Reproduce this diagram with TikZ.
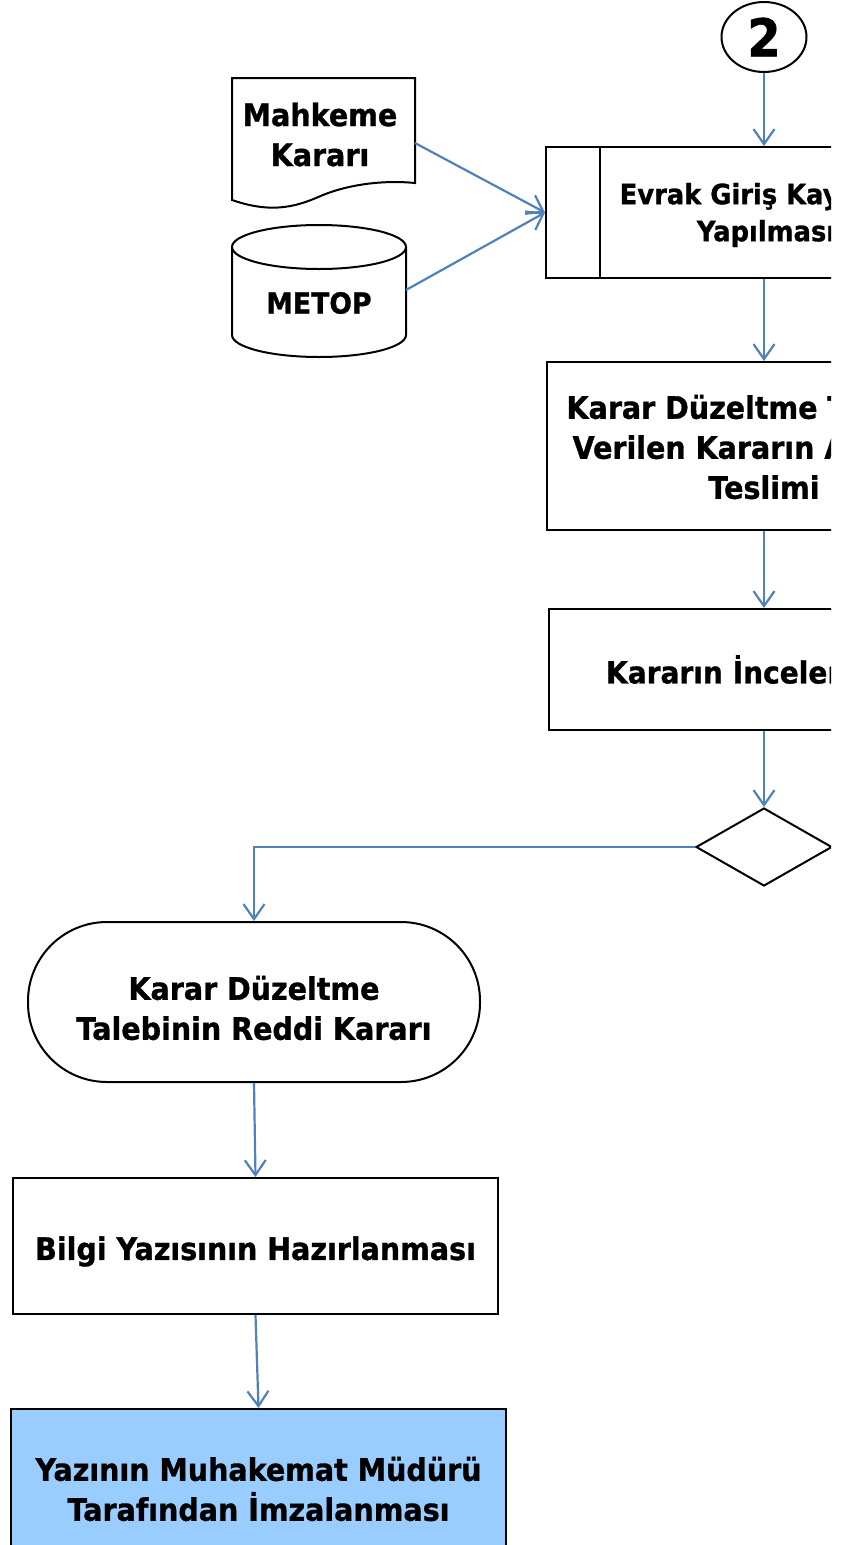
\documentclass[tikz,border=0pt]{standalone}
\usepackage{fontspec}
\setmainfont{DejaVu Sans}[FakeStretch=0.92, FakeBold=1]
\usetikzlibrary{arrows.meta,shapes.geometric}
\definecolor{lineblue}{HTML}{4F81BD}
\definecolor{fillblue}{HTML}{99CCFF}
\tikzset{
  arr/.style={draw=lineblue, line width=2.2pt, -{Straight Barb[length=15pt,width=21pt,line width=2.2pt]}},
  shp/.style={draw=black, line width=2pt, fill=white},
  boxnode/.style={shp, rectangle, inner sep=0pt},
  txt/.style={inner sep=0pt, align=center, font=\bfseries\fontsize{31}{40}\selectfont},
}
\begin{document}
\begin{tikzpicture}[x=1pt,y=-1pt]
\useasboundingbox (0,0) rectangle (849,1545);
\begin{scope}
\clip (0,0) rectangle (831,1545);
% connector circle 2
\node[shp, ellipse, minimum width=85pt, minimum height=70pt, inner sep=0pt, font=\bfseries\fontsize{52}{52}\selectfont] (c2) at (764,37) {2};
% Evrak box (predefined process)
\node[boxnode, minimum width=436pt, minimum height=131pt] (ev) at (764,212.5) {};
\draw[line width=2pt] ([xshift=55pt]ev.north west) -- ([xshift=55pt]ev.south west);
\node[txt, font=\bfseries\fontsize{28}{37}\selectfont] (evT) at (766,215) {Evrak Giriş Kaydının\\Yapılması};
% document shape
\draw[shp] (232,78) -- (415,78) -- (415,183) .. controls (385,180) and (350,184) .. (323,195) .. controls (300,205) and (275,215) .. (232,200) -- cycle;
\node[txt] (mk) at (320,134.5) {Mahkeme\\Kararı};
\coordinate (mkR) at (415,143);
% cylinder
\draw[shp] (232,247) -- (232,335) arc (180:360:87pt and 22pt) -- (406,247);
\draw[shp] (319,247) ellipse [x radius=87pt, y radius=22pt];
\node[txt, font=\bfseries\fontsize{29}{30}\selectfont] (mt) at (319,303) {METOP};
\coordinate (mtR) at (406,290);
% second box
\node[boxnode, minimum width=434pt, minimum height=168pt] (kd) at (764,446) {};
\node[txt] (kdT) at (764,447) {Karar Düzeltme Talebine\\Verilen Kararın Avukata\\Teslimi};
% third box
\node[boxnode, minimum width=430pt, minimum height=121pt] (ki) at (764,669.5) {};
\node[txt, font=\bfseries\fontsize{30.5}{40}\selectfont] (kiT) at (764,669.5) {Kararın İncelenmesi};
% diamond
\node[shp, diamond, minimum width=136pt, minimum height=78pt, aspect=1.74, inner sep=0pt] (dm) at (764,847) {};
% terminal
\node[boxnode, minimum width=452pt, minimum height=160pt, rounded corners=79pt] (tr) at (254,1002) {};
\node[txt] (trT) at (254,1008) {Karar Düzeltme\\Talebinin Reddi Kararı};
% bilgi
\node[boxnode, minimum width=485pt, minimum height=136pt] (bg) at (255.5,1246) {};
\node[txt] (bgT) at (255.5,1251.5) {Bilgi Yazısının Hazırlanması};
% final
\node[boxnode, fill=fillblue, minimum width=495pt, minimum height=166pt] (im) at (258.5,1492) {};
\node[txt] (imT) at (258.5,1489) {Yazının Muhakemat Müdürü\\Tarafından İmzalanması};
% connectors
\draw[arr] (c2.south) -- (ev.north);
\draw[arr] (mkR) -- (ev.west);
\draw[arr] (mtR) -- (ev.west);
\draw[arr] (ev.south) -- (kd.north);
\draw[arr] (kd.south) -- (ki.north);
\draw[arr] (ki.south) -- (dm.north);
\draw[arr] (dm.west) -| (tr.north);
\draw[arr] (tr.south) -- (bg.north);
\draw[arr] (bg.south) -- (im.north);
\end{scope}
\end{tikzpicture}
\end{document}
